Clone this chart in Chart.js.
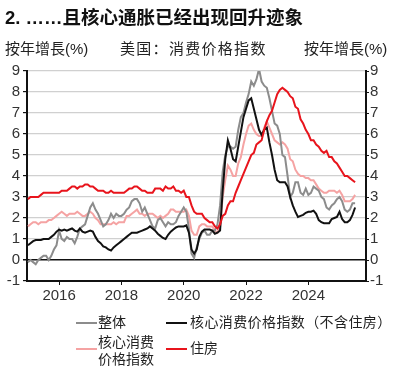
<!DOCTYPE html>
<html><head><meta charset="utf-8">
<script src="https://cdn.jsdelivr.net/npm/chart.js@4.4.1/dist/chart.umd.min.js"></script>
<style>
html,body{margin:0;padding:0;background:#fff;}
#wrap{position:relative;width:420px;height:380px;overflow:hidden;font-family:"Liberation Sans","Noto Sans CJK SC",sans-serif;color:#222;}
canvas{position:absolute;left:0;top:0;}
.t{position:absolute;white-space:nowrap;line-height:17px;}
.sw{position:absolute;height:2px;width:21px;}
</style></head>
<body><div id="wrap">
<canvas id="c" width="420" height="380"></canvas>
<div class="t" style="left:5px;top:7px;font-size:18.5px;line-height:21px;font-weight:bold;color:#111;">2. ……且核心通胀已经出现回升迹象</div>
<div class="t" style="left:5px;top:40px;font-size:15px;">按年增長(%)</div>
<div class="t" style="left:120px;top:40px;font-size:15px;letter-spacing:1.3px;">美国：消费价格指数</div>
<div class="t" style="left:304px;top:40px;font-size:15px;">按年增長(%)</div>

<div class="sw" style="left:76px;top:322px;background:#8c8c8c;"></div>
<div class="t" style="left:98px;top:314px;font-size:14px;">整体</div>
<div class="sw" style="left:166px;top:322px;background:#111;"></div>
<div class="t" style="left:190px;top:314px;font-size:14px;letter-spacing:0.4px;">核心消费价格指数（不含住房）</div>
<div class="sw" style="left:76px;top:348px;background:#f5a3a3;"></div>
<div class="t" style="left:98px;top:334px;font-size:14px;">核心消费<br>价格指数</div>
<div class="sw" style="left:166px;top:348px;background:#e8141c;"></div>
<div class="t" style="left:190px;top:340px;font-size:14px;">住房</div>
</div>
<script>
// Monthly data, Jan 2015 .. Jul 2025 (YoY %)
const startYear = 2015;
const headline = [
 -0.1,0.0,-0.1,-0.2,0.0,0.1,0.2,0.2,0.0,0.2,0.5,0.7,
 1.4,1.0,0.9,1.1,1.0,1.0,0.8,1.1,1.5,1.6,1.7,2.1,
 2.5,2.7,2.4,2.2,1.9,1.6,1.7,1.9,2.2,2.0,2.2,2.1,
 2.1,2.2,2.4,2.5,2.8,2.9,2.9,2.7,2.3,2.5,2.2,1.9,
 1.6,1.5,1.9,2.0,1.8,1.6,1.8,1.7,1.7,1.8,2.1,2.3,
 2.5,2.3,1.5,0.3,0.1,0.6,1.0,1.3,1.4,1.2,1.2,1.4,
 1.4,1.7,2.6,4.2,5.0,5.4,5.4,5.3,5.4,6.2,6.8,7.0,
 7.5,7.9,8.5,8.3,8.6,9.1,8.5,8.3,8.2,7.7,7.1,6.5,
 6.4,6.0,5.0,4.9,4.0,3.0,3.2,3.7,3.7,3.2,3.1,3.4,
 3.1,3.2,3.5,3.4,3.3,3.0,2.9,2.5,2.4,2.6,2.7,2.9,
 3.0,2.8,2.4,2.3,2.4,2.7,2.7
];
const coreExShelter = [
 0.7,0.8,0.9,0.95,0.95,0.95,1.0,1.0,1.0,1.1,1.2,1.35,
 1.45,1.4,1.45,1.4,1.45,1.5,1.4,1.35,1.5,1.35,1.3,1.35,
 1.4,1.35,1.1,0.9,0.8,0.65,0.6,0.5,0.45,0.6,0.7,0.8,
 0.9,1.0,1.1,1.2,1.3,1.3,1.3,1.35,1.4,1.45,1.5,1.6,
 1.5,1.4,1.25,1.15,1.05,1.0,1.2,1.35,1.45,1.55,1.6,1.6,
 1.6,1.65,1.3,0.5,0.3,0.5,1.1,1.35,1.45,1.45,1.45,1.4,
 1.25,1.3,1.4,3.3,4.8,5.7,5.3,4.8,4.7,5.4,6.1,6.8,
 7.2,7.6,7.7,7.2,6.7,6.2,5.95,6.2,6.3,5.6,5.0,4.3,
 3.8,3.7,3.7,3.7,3.5,3.0,2.6,2.3,2.05,2.1,2.15,2.25,
 2.3,2.3,2.35,2.2,1.9,1.8,1.75,1.75,1.75,1.95,2.0,2.05,
 2.3,1.95,1.8,1.8,1.9,2.15,2.5
];
const core = [
 1.6,1.7,1.8,1.8,1.7,1.8,1.8,1.8,1.9,1.9,2.0,2.1,
 2.2,2.3,2.2,2.1,2.2,2.2,2.2,2.3,2.2,2.1,2.1,2.2,
 2.3,2.2,2.0,1.9,1.7,1.7,1.7,1.7,1.7,1.8,1.7,1.8,
 1.8,1.8,2.1,2.1,2.2,2.3,2.4,2.2,2.2,2.1,2.2,2.2,
 2.2,2.1,2.0,2.1,2.0,2.1,2.2,2.4,2.4,2.3,2.3,2.3,
 2.3,2.4,2.1,1.4,1.2,1.2,1.6,1.7,1.7,1.6,1.6,1.6,
 1.4,1.3,1.6,3.0,3.8,4.5,4.3,4.0,4.0,4.6,4.9,5.5,
 6.0,6.4,6.5,6.2,6.0,5.9,5.9,6.3,6.6,6.3,6.0,5.7,
 5.6,5.5,5.6,5.5,5.3,4.8,4.7,4.3,4.1,4.0,4.0,3.9,
 3.9,3.8,3.8,3.6,3.4,3.3,3.2,3.2,3.3,3.3,3.3,3.2,
 3.3,3.1,2.8,2.8,2.8,2.9,3.1
];
const shelter = [
 2.9,3.0,3.0,3.0,3.0,3.1,3.2,3.2,3.2,3.2,3.2,3.2,
 3.2,3.3,3.3,3.3,3.4,3.5,3.5,3.4,3.5,3.5,3.6,3.6,
 3.5,3.5,3.4,3.3,3.3,3.3,3.2,3.2,3.3,3.2,3.2,3.2,
 3.2,3.2,3.3,3.4,3.4,3.5,3.5,3.4,3.3,3.3,3.2,3.2,
 3.2,3.4,3.4,3.4,3.3,3.5,3.4,3.4,3.5,3.3,3.3,3.2,
 3.3,3.0,3.0,2.6,2.3,2.2,2.2,2.2,2.0,1.9,1.8,1.8,
 1.6,1.5,1.7,2.1,2.2,2.6,2.8,2.8,3.2,3.5,3.8,4.1,
 4.4,4.7,5.0,5.1,5.5,5.6,5.7,6.2,6.6,6.9,7.1,7.5,
 7.9,8.1,8.2,8.1,8.0,7.8,7.7,7.3,7.2,6.7,6.5,6.2,
 6.0,5.7,5.7,5.5,5.4,5.2,5.1,5.2,4.9,4.9,4.7,4.6,
 4.4,4.2,4.0,4.0,3.9,3.8,3.7
];
const yearTicks = [2016, 2018, 2020, 2022, 2024];
const seriesNames = ['整体', '核心消费价格指数（不含住房）', '核心消费价格指数', '住房'];

const toXY = arr => arr.map((v, i) => ({x: startYear + i / 12, y: v}));
const FONT = '"Liberation Sans", Arial, sans-serif';

new Chart(document.getElementById('c'), {
  type: 'line',
  data: {
    datasets: [
      {label: seriesNames[3], data: toXY(shelter), borderColor: '#e8141c', order: 0},
      {label: seriesNames[1], data: toXY(coreExShelter), borderColor: '#111111', order: 1},
      {label: seriesNames[0], data: toXY(headline), borderColor: '#8c8c8c', order: 2},
      {label: seriesNames[2], data: toXY(core), borderColor: '#f5a3a3', order: 3}
    ].map(d => Object.assign(d, {borderWidth: 2, pointRadius: 0, tension: 0, fill: false}))
  },
  options: {
    responsive: false,
    animation: false,
    layout: {padding: {top: 71, bottom: 0, left: 0, right: 0}},
    plugins: {legend: {display: false}, tooltip: {enabled: false}},
    scales: {
      x: {
        type: 'linear', min: 2014.97, max: 2025.85,
        afterBuildTicks: s => { s.ticks = yearTicks.map(v => ({value: v})); },
        afterFit: s => { s.height = 99; },
        ticks: {font: {family: FONT, size: 15}, color: '#333', padding: 2, maxRotation: 0,
                callback: v => String(v)},
        grid: {drawOnChartArea: false, drawTicks: true, tickLength: 4, tickColor: '#111'},
        border: {display: true, color: '#111', width: 2}
      },
      y: {
        position: 'left', min: -1, max: 9,
        afterFit: s => { s.width = 27; },
        ticks: {stepSize: 1, font: {family: FONT, size: 15}, color: '#333', padding: 3},
        grid: {
          color: c => c.tick && c.tick.value === 0 ? '#111' : '#d0d0d0',
          lineWidth: c => c.tick && c.tick.value === 0 ? 1.5 : 1.2,
          tickColor: '#111', tickLength: 4
        },
        border: {display: true, color: '#111', width: 2}
      },
      y2: {
        position: 'right', min: -1, max: 9,
        afterFit: s => { s.width = 54; },
        ticks: {stepSize: 1, font: {family: FONT, size: 15}, color: '#333', padding: 1},
        grid: {drawOnChartArea: false, tickColor: '#111', tickLength: 3},
        border: {display: true, color: '#111', width: 2}
      }
    }
  }
});
</script>
</body></html>
